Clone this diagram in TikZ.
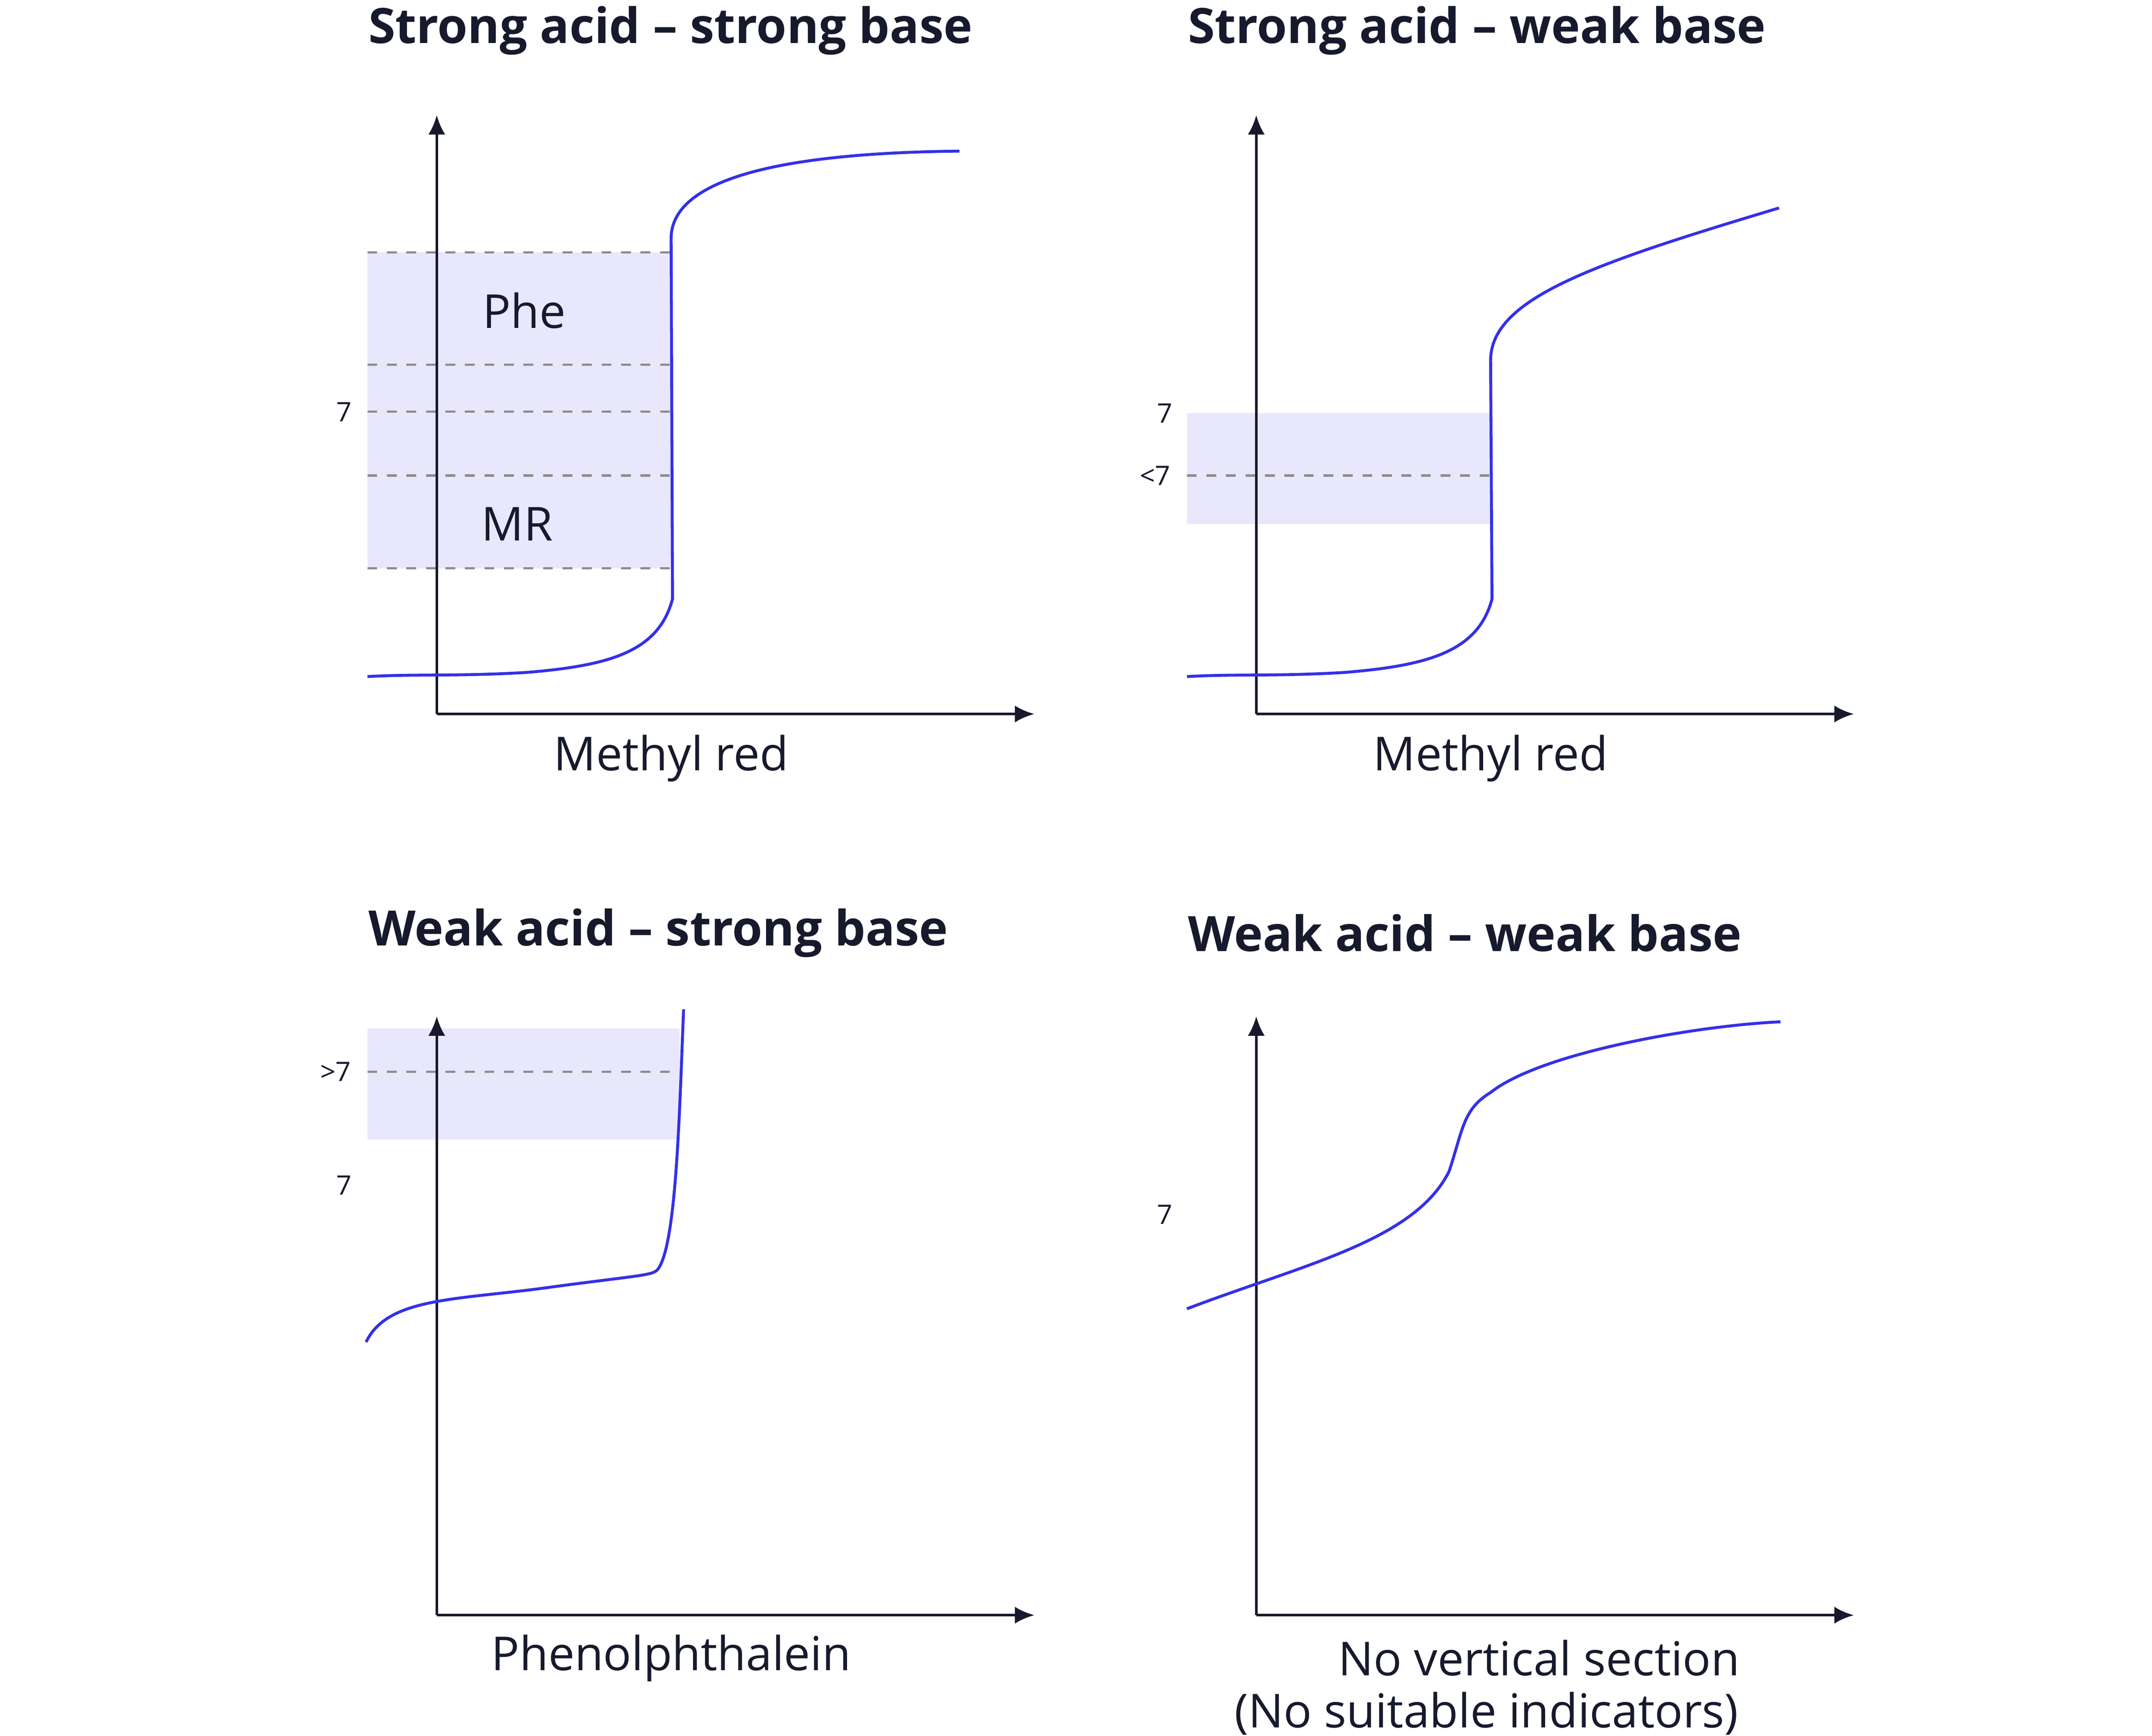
\documentclass[tikz,border=0pt]{standalone}
\usepackage{fontspec}
\setmainfont{Open Sans}
\usetikzlibrary{arrows.meta}
\definecolor{ink}{RGB}{22,26,44}
\definecolor{curve}{RGB}{52,48,232}
\definecolor{band}{RGB}{233,231,252}
\begin{document}
\begin{tikzpicture}[x=0.01cm, y=-0.01cm,
  axis/.style = {draw=ink, line width=0.55pt, -{Latex[length=4pt,width=3.5pt]}},
  curvy/.style = {draw=curve, line width=0.6pt},
  guide/.style = {draw=gray!90, dash pattern=on 2pt off 2pt, line width=0.45pt},
  title/.style = {anchor=west, font=\bfseries\fontsize{10}{12}\selectfont, text=ink, inner sep=0},
  caption/.style = {font=\fontsize{9.6}{11}\selectfont, text=ink, inner sep=0},
  tick/.style = {font=\fontsize{5.5}{6}\selectfont, text=ink, inner sep=0}]
\useasboundingbox (0,0) rectangle (1552,1252);

% Strong acid - strong base
\node[title] (t1) at (265,22) {Strong acid -- strong base};
\fill[band] (265,182) rectangle (485,410);
\foreach \y in {182,263,297,343,410} \draw[guide] (265,\y) -- (485,\y);
\coordinate (o1) at (315,515);
\draw[axis] (o1) -- (315,83);
\draw[axis] (o1) -- (746,515);
\node[tick] (s1) at (248,297) {7};
\node[caption] (phe) at (378,224) {Phe};
\node[caption] (mr) at (373,378) {MR};
\draw[curvy] (265,488) .. controls (300,486) and (330,488) .. (380,485)
  .. controls (440,480) and (475,470) .. (485,432) -- (484,172)
  .. controls (484,120) and (600,110) .. (692,109);
\node[caption] (c1) at (484,547) {Methyl red};

% Strong acid - weak base
\node[title] (t2) at (856,22) {Strong acid -- weak base};
\fill[band] (856,298) rectangle (1076,378);
\draw[guide] (856,343) -- (1076,343);
\coordinate (o2) at (906,515);
\draw[axis] (o2) -- (906,83);
\draw[axis] (o2) -- (1337,515);
\node[tick] (s2) at (840,298) {7};
\node[tick] (s3) at (833,343) {<7};
\draw[curvy] (856,488) .. controls (890,486) and (920,488) .. (970,485)
  .. controls (1030,480) and (1066,470) .. (1076,432) -- (1075,260)
  .. controls (1075,215) and (1150,190) .. (1283,150);
\node[caption] (c2) at (1075,547) {Methyl red};

% Weak acid - strong base
\node[title] (t3) at (265,673) {Weak acid -- strong base};
\fill[band] (265,742) rectangle (490,822);
\draw[guide] (265,773) -- (490,773);
\coordinate (o3) at (315,1165);
\draw[axis] (o3) -- (315,733);
\draw[axis] (o3) -- (746,1165);
\node[tick] (s4) at (242,773) {>7};
\node[tick] (s5) at (248,855) {7};
\draw[curvy] (264,968) .. controls (280,935) and (330,938) .. (400,928)
  .. controls (460,920) and (470,920) .. (474,916)
  .. controls (488,900) and (490,800) .. (493,728);
\node[caption] (c3) at (484,1196) {Phenolphthalein};

% Weak acid - weak base
\node[title] (t4) at (856,673) {Weak acid -- weak base};
\coordinate (o4) at (906,1165);
\draw[axis] (o4) -- (906,733);
\draw[axis] (o4) -- (1337,1165);
\node[tick] (s6) at (840,876) {7};
\draw[curvy] (856,944) .. controls (940,912) and (1020,895) .. (1045,845)
  .. controls (1055,815) and (1055,800) .. (1075,788)
  .. controls (1110,760) and (1220,740) .. (1284,737);
\node[caption] (c4) at (1110,1196) {No vertical section};
\node[caption] (c5) at (1072,1236) {(No suitable indicators)};
\end{tikzpicture}
\end{document}
